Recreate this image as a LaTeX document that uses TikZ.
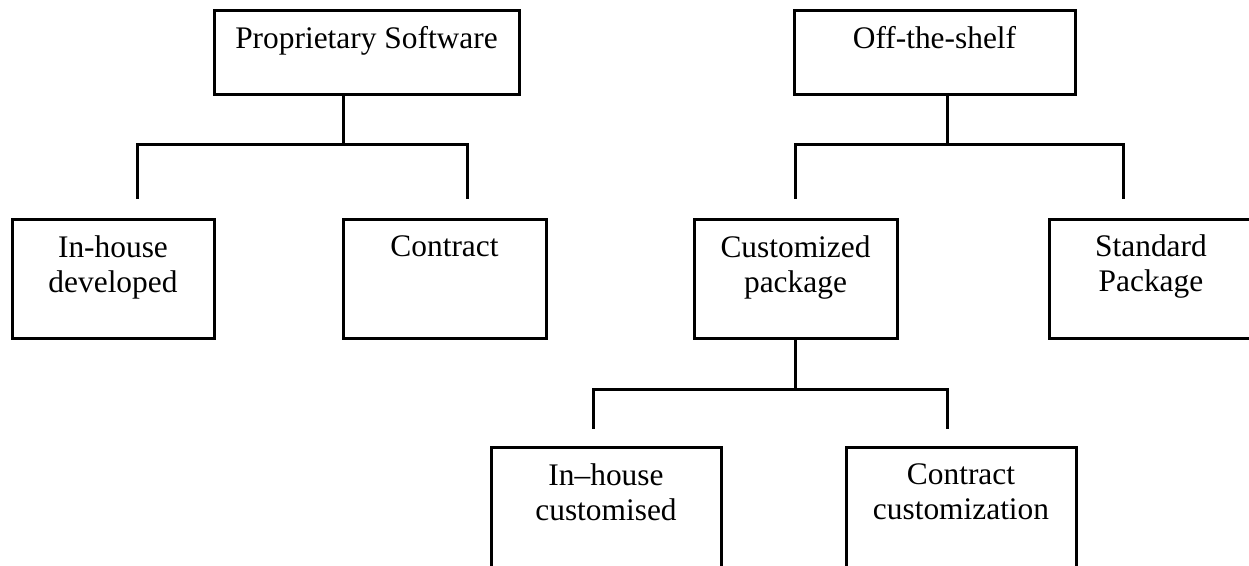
\documentclass[tikz,border=0pt]{standalone}
\usepackage{fontspec}
\setmainfont{Liberation Serif}
\begin{document}
\begin{tikzpicture}[x=0.5pt,y=-0.5pt,
  box/.style={draw, line width=1.5pt, rectangle, inner sep=0pt},
  topbox/.style={box, minimum height=42pt},
  midbox/.style={box, minimum height=59.5pt},
  lowbox/.style={box, minimum height=66pt, minimum width=115pt},
  boxtext/.style={anchor=north, inner sep=0pt, align=center,
    font=\fontsize{15.7pt}{17.5pt}\selectfont},
  conn/.style={line width=1.5pt, line join=miter}]
\useasboundingbox (0,0) rectangle (1249,566);
\clip (0,0) rectangle (1249,566);

% top level
\node[topbox, minimum width=152.5pt] (ps) at (366.5,53) {};
\node[boxtext] (psT) at ([yshift=-8.2pt]ps.north) {Proprietary Software};
\node[topbox, minimum width=140.5pt] (ots) at (934.5,53) {};
\node[boxtext] (otsT) at ([yshift=-8.2pt]ots.north) {Off-the-shelf};

% second level
\node[midbox, minimum width=101pt] (ihd) at (113,279.5) {};
\node[boxtext] (ihdT) at ([yshift=-8.2pt]ihd.north) {In-house\\developed};
\node[midbox, minimum width=101.5pt] (con) at (444.5,279.5) {};
\node[boxtext] (conT) at ([yshift=-8.2pt]con.north) {Contract};
\node[midbox, minimum width=101.5pt] (cp) at (795.5,279.5) {};
\node[boxtext] (cpT) at ([yshift=-8.2pt]cp.north) {Customized\\package};
\node[midbox, minimum width=102pt] (sp) at (1151,279) {};
\node[boxtext] (spT) at ([yshift=-8.2pt]sp.north) {Standard\\Package};

% third level
\node[lowbox] (ihc) at (606,514) {};
\node[boxtext] (ihcT) at ([yshift=-8.2pt]ihc.north) {In\textendash house\\customised};
\node[lowbox] (cc) at (961,514) {};
\node[boxtext] (ccT) at ([yshift=-8.2pt]cc.north) {Contract\\customization};

% junctions and free ends of the tree connectors
\coordinate (psJ) at (343,145);
\coordinate (ihdE) at (137,199);
\coordinate (conE) at (467,199);
\coordinate (otsJ) at (947,145);
\coordinate (cpE) at (795,199);
\coordinate (spE) at (1123,199);
\coordinate (cpJ) at (795,390);
\coordinate (ihcE) at (593,429);
\coordinate (ccE) at (947,429);

\draw[conn] (ps.south -| psJ) -- (psJ);
\draw[conn] (ihdE) |- (psJ) -| (conE);
\draw[conn] (ots.south -| otsJ) -- (otsJ);
\draw[conn] (cpE) |- (otsJ) -| (spE);
\draw[conn] (cp.south -| cpJ) -- (cpJ);
\draw[conn] (ihcE) |- (cpJ) -| (ccE);
\end{tikzpicture}
\end{document}
